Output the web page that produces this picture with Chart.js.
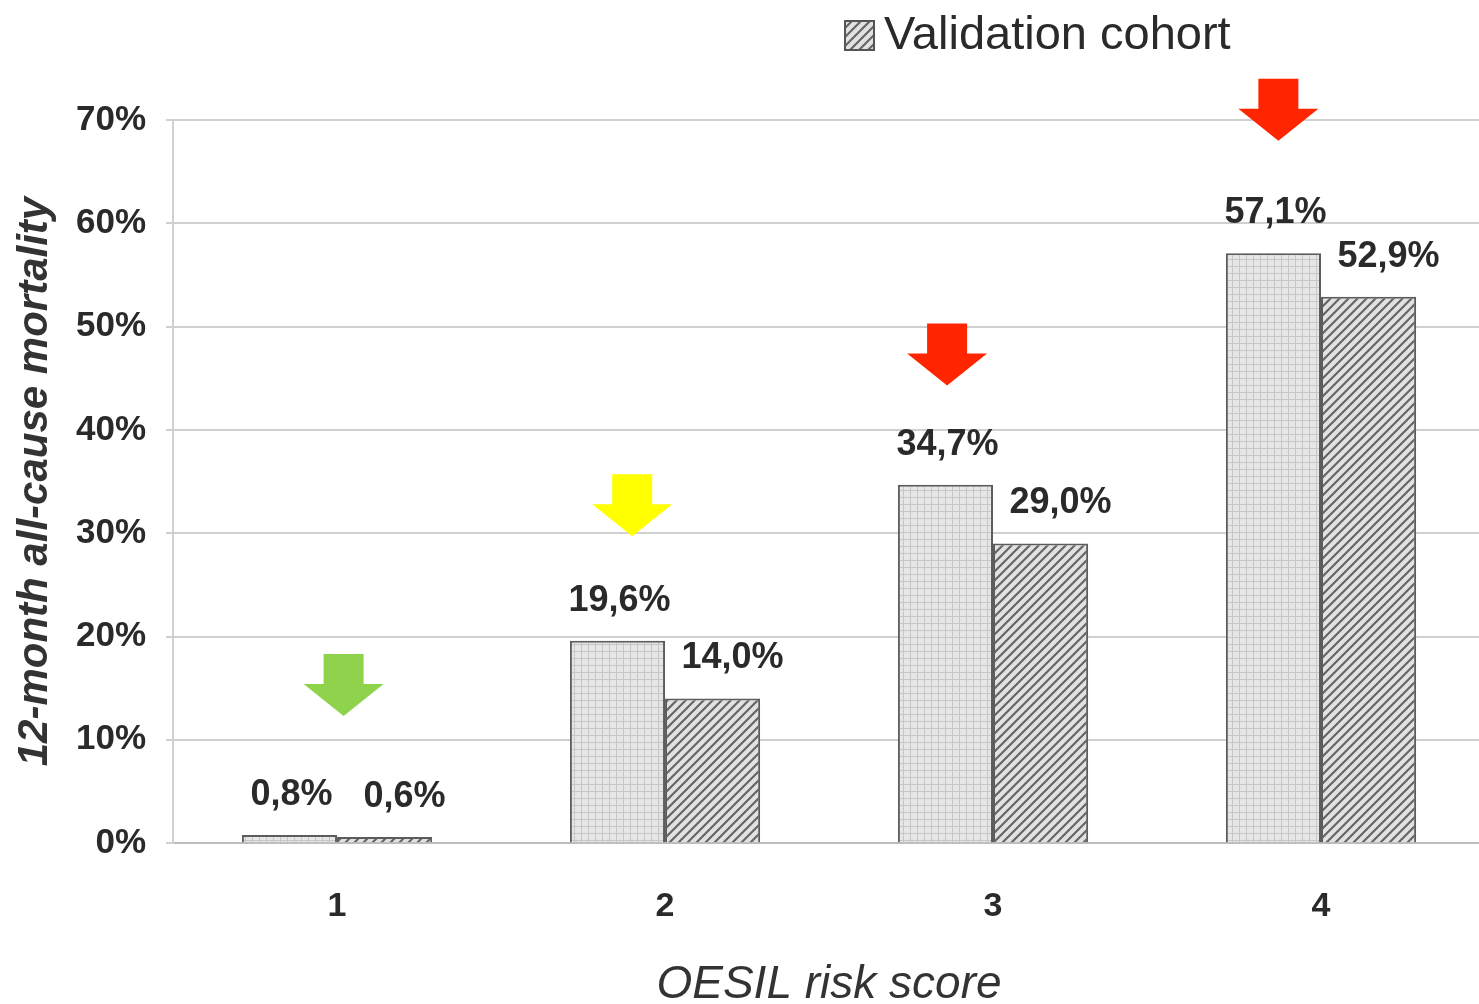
<!DOCTYPE html>
<html>
<head>
<meta charset="utf-8">
<title>12-month all-cause mortality by OESIL risk score</title>
<script src="https://cdn.jsdelivr.net/npm/chart.js@4.4.1/dist/chart.umd.min.js"></script>
<style>
  html, body { margin: 0; padding: 0; background: #ffffff; overflow: hidden; }
  #wrap { width: 1485px; height: 1012px; }
</style>
</head>
<body>
<div id="wrap"><canvas id="chart" width="1485" height="1012"></canvas></div>
<script>
// OESIL risk score categories and 12-month mortality (%) per cohort
const scores = ['1', '2', '3', '4'];
const derivationCohort = [0.8, 19.6, 34.7, 57.1];
const validationCohort = [0.6, 14.0, 29.0, 52.9];
const yTicksMax = 70;
const yTickStep = 10;

// Risk arrows: x in category units, y of the arrow tip in %
const arrowX = [0.02, 0.90, 1.86, 2.87];
const arrowTipY = [12.3, 29.7, 44.3, 68.0];
const arrowColors = ['#8fd24c', '#ffff00', '#ff2500', '#ff2500'];

const FONT = '"Liberation Sans", Arial, sans-serif';
const TEXT = '#2a2a2a';

function gridPattern() {
  const c = document.createElement('canvas');
  c.width = 7; c.height = 7;
  const g = c.getContext('2d');
  g.fillStyle = '#e6e6e6';
  g.fillRect(0, 0, 7, 7);
  g.fillStyle = '#c6c6c6';
  g.fillRect(0, 0, 7, 1);
  g.fillRect(0, 0, 1, 7);
  return g.createPattern(c, 'repeat');
}

function hatchPattern() {
  const s = 9;
  const c = document.createElement('canvas');
  c.width = s; c.height = s;
  const g = c.getContext('2d');
  g.fillStyle = '#e2e2e2';
  g.fillRect(0, 0, s, s);
  g.strokeStyle = '#666666';
  g.lineWidth = 2.2;
  g.beginPath();
  g.moveTo(-1, s + 1); g.lineTo(s + 1, -1);
  g.moveTo(-2, 2); g.lineTo(2, -2);
  g.moveTo(s - 2, s + 2); g.lineTo(s + 2, s - 2);
  g.stroke();
  return g.createPattern(c, 'repeat');
}

const fillA = gridPattern();
const fillB = hatchPattern();

function fmt(v) {
  return v.toFixed(1).replace('.', ',') + '%';
}

// Value labels above each bar
const valueLabels = {
  id: 'valueLabels',
  afterDatasetsDraw(chart) {
    const ctx = chart.ctx;
    ctx.save();
    ctx.font = 'bold 36px ' + FONT;
    ctx.fillStyle = TEXT;
    ctx.textAlign = 'center';
    ctx.textBaseline = 'middle';
    chart.data.datasets.forEach((ds, di) => {
      const meta = chart.getDatasetMeta(di);
      meta.data.forEach((bar, i) => {
        const dx = di === 0 ? 2 : 20;
        ctx.fillText(fmt(ds.data[i]), bar.x + dx, bar.y - 40);
      });
    });
    ctx.restore();
  }
};

// Down arrows marking each risk level
const riskArrows = {
  id: 'riskArrows',
  afterDraw(chart) {
    const ctx = chart.ctx;
    const xs = chart.scales.x, ys = chart.scales.y;
    ctx.save();
    arrowX.forEach((ax, i) => {
      const x = xs.getPixelForValue(ax);
      const tip = ys.getPixelForValue(arrowTipY[i]);
      const headH = 32, shaftH = 30, headW = 80, shaftW = 40;
      ctx.fillStyle = arrowColors[i];
      ctx.beginPath();
      ctx.moveTo(x, tip);
      ctx.lineTo(x - headW / 2, tip - headH);
      ctx.lineTo(x - shaftW / 2, tip - headH);
      ctx.lineTo(x - shaftW / 2, tip - headH - shaftH);
      ctx.lineTo(x + shaftW / 2, tip - headH - shaftH);
      ctx.lineTo(x + shaftW / 2, tip - headH);
      ctx.lineTo(x + headW / 2, tip - headH);
      ctx.closePath();
      ctx.fill();
    });
    ctx.restore();
  }
};

// Legend entry for the validation cohort
const cohortLegend = {
  id: 'cohortLegend',
  afterDraw(chart) {
    const ctx = chart.ctx;
    const ds = chart.data.datasets[1];
    ctx.save();
    ctx.fillStyle = ds.backgroundColor;
    ctx.fillRect(845, 21, 29, 29);
    ctx.strokeStyle = '#555';
    ctx.lineWidth = 2;
    ctx.strokeRect(845, 21, 29, 29);
    ctx.font = '47px ' + FONT;
    ctx.fillStyle = TEXT;
    ctx.textAlign = 'left';
    ctx.textBaseline = 'middle';
    ctx.fillText(ds.label, 884, 36);
    ctx.restore();
  }
};

new Chart(document.getElementById('chart'), {
  type: 'bar',
  data: {
    labels: scores,
    datasets: [
      {
        label: 'Derivation cohort',
        data: derivationCohort,
        backgroundColor: fillA,
        borderColor: '#5c5c5c',
        borderWidth: 2,
        categoryPercentage: 0.58,
        barPercentage: 1.0
      },
      {
        label: 'Validation cohort',
        data: validationCohort,
        backgroundColor: fillB,
        borderColor: '#5c5c5c',
        borderWidth: 2,
        categoryPercentage: 0.58,
        barPercentage: 1.0
      }
    ]
  },
  options: {
    responsive: false,
    animation: false,
    devicePixelRatio: 1,
    layout: { padding: { top: 120, left: 0, right: 0, bottom: 0 } },
    plugins: {
      legend: { display: false },
      tooltip: { enabled: false }
    },
    scales: {
      x: {
        grid: { display: false, drawTicks: false },
        border: { display: true, color: '#bdbdbd', width: 2 },
        ticks: { font: { family: FONT, size: 34, weight: 'bold' }, color: TEXT, padding: 43.5 },
        title: {
          display: true,
          text: 'OESIL risk score',
          font: { family: FONT, size: 46, style: 'italic', lineHeight: 0.61 },
          color: '#333',
          padding: { top: 0, bottom: 13 }
        }
      },
      y: {
        min: 0,
        max: yTicksMax,
        ticks: {
          stepSize: yTickStep,
          callback: v => v + '%',
          font: { family: FONT, size: 35, weight: 'bold' },
          color: TEXT,
          padding: 20
        },
        grid: { color: '#d0d0d0', lineWidth: 2, tickLength: 7 },
        border: { display: true, color: '#d0d0d0', width: 2 },
        title: {
          display: true,
          text: '12-month all-cause mortality',
          font: { family: FONT, size: 42, style: 'italic', weight: 'bold', lineHeight: 1.0 },
          color: '#333',
          padding: { top: 14, bottom: 0 }
        }
      }
    }
  },
  plugins: [valueLabels, riskArrows, cohortLegend]
});
</script>
</body>
</html>
